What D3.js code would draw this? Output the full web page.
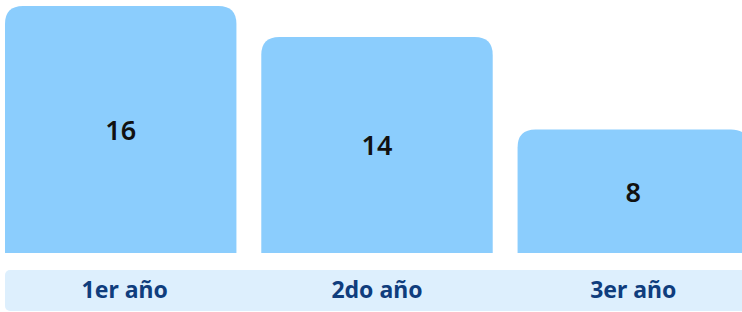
<!DOCTYPE html>
<html>
<head>
<meta charset="utf-8">
<script src="https://cdn.jsdelivr.net/npm/d3@7"></script>
<style>
  html, body { margin: 0; padding: 0; background: #fff; }
  svg { display: block; }
</style>
</head>
<body>
<div id="chart"></div>
<script>
// 資料
const categories = ['1er año', '2do año', '3er año'];
const values = [16, 14, 8];

const W = 742, H = 312;
const svg = d3.select('#chart').append('svg')
  .attr('width', W)
  .attr('height', H);

// X 軸（類別）
const x = d3.scaleBand()
  .domain(categories)
  .range([5, 749])
  .paddingInner(0.097)
  .paddingOuter(0);

// Y 軸（數值）
const y = d3.scaleLinear()
  .domain([0, 16])
  .range([253, 6]);

// 上方圓角的長條路徑
function topRounded(x0, y0, w, h, r) {
  r = Math.min(r, w / 2, h);
  return `M${x0},${y0 + h}V${y0 + r}Q${x0},${y0} ${x0 + r},${y0}` +
    `H${x0 + w - r}Q${x0 + w},${y0} ${x0 + w},${y0 + r}V${y0 + h}Z`;
}

const data = categories.map((c, i) => ({ cat: c, val: values[i] }));

// 畫長條
svg.append('g')
  .selectAll('path')
  .data(data)
  .enter()
  .append('path')
  .attr('d', d => topRounded(x(d.cat), y(d.val), x.bandwidth(), y(0) - y(d.val), 18))
  .attr('fill', '#8bcdfd');

// 數值標籤
svg.append('g')
  .selectAll('text')
  .data(data)
  .enter()
  .append('text')
  .attr('x', d => x(d.cat) + x.bandwidth() / 2)
  .attr('y', d => (y(d.val) + y(0)) / 2)
  .attr('text-anchor', 'middle')
  .attr('dominant-baseline', 'central')
  .attr('font-family', 'Noto Sans, sans-serif')
  .attr('font-weight', 600)
  .attr('font-size', 27)
  .attr('fill', '#111')
  .text(d => d.val);

// 類別底帶
svg.append('rect')
  .attr('x', 5)
  .attr('y', 270)
  .attr('width', 760)
  .attr('height', 41)
  .attr('rx', 5)
  .attr('fill', '#ddeffd');

// 類別標籤
svg.append('g')
  .selectAll('text')
  .data(data)
  .enter()
  .append('text')
  .attr('x', d => x(d.cat) + x.bandwidth() / 2 + (d.cat === '1er año' ? 4 : 0))
  .attr('y', 289)
  .attr('text-anchor', 'middle')
  .attr('dominant-baseline', 'central')
  .attr('font-family', 'Noto Sans, sans-serif')
  .attr('font-weight', 700)
  .attr('font-size', 23)
  .attr('fill', '#0f3d7d')
  .text(d => d.cat);
</script>
</body>
</html>
